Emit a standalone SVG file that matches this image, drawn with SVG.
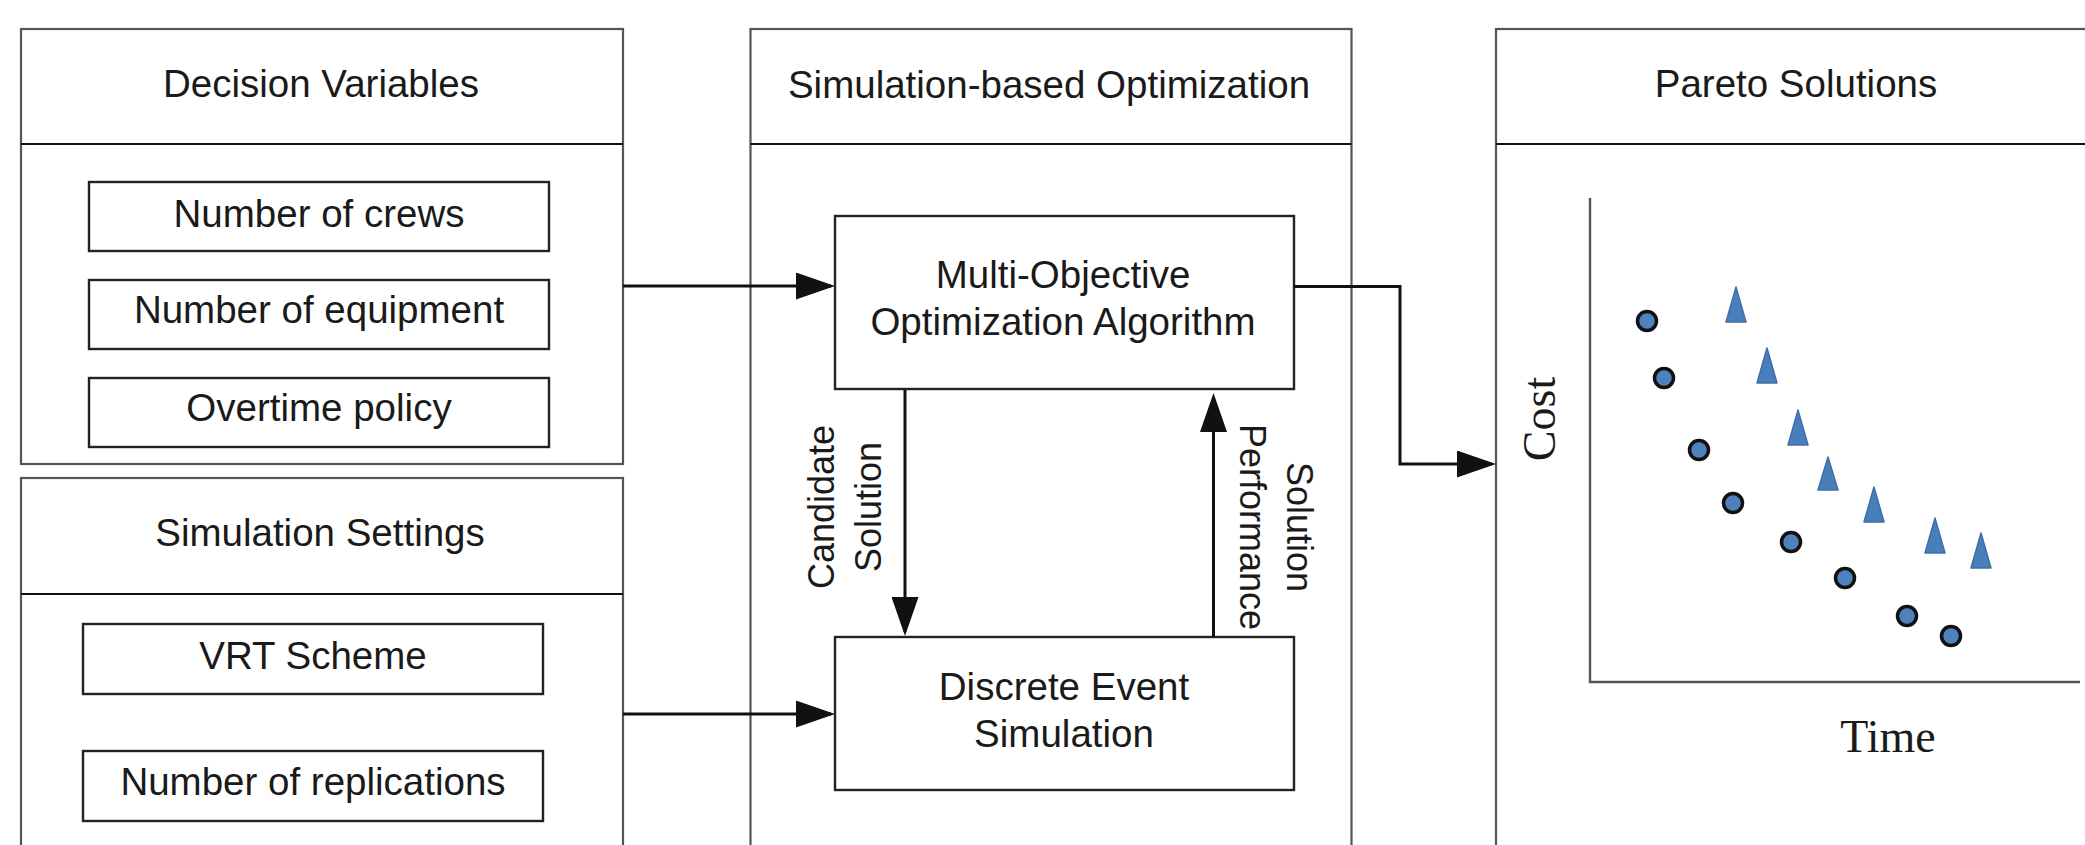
<svg xmlns="http://www.w3.org/2000/svg" width="2085" height="845" viewBox="0 0 2085 845">
  <defs>
    <style>
      .panel { fill: #ffffff; stroke: #555555; stroke-width: 2.2; }
      .divider { stroke: #111111; stroke-width: 2.2; fill: none; }
      .box { fill: #ffffff; stroke: #222222; stroke-width: 2.4; }
      .label { font-family: "Liberation Sans", Arial, sans-serif; font-size: 38.5px; fill: #1a1a1a; text-anchor: middle; }
      .side { font-family: "Liberation Sans", Arial, sans-serif; font-size: 36px; fill: #1a1a1a; text-anchor: middle; }
      .axis-label { font-family: "Liberation Serif", "Times New Roman", serif; font-size: 46px; fill: #1a1a1a; text-anchor: middle; }
      .wire { fill: none; stroke: #111111; stroke-width: 3; }
      .axis { fill: none; stroke: #555555; stroke-width: 2.4; }
      .dot { fill: #4f81bd; stroke: #111111; stroke-width: 3.5; }
      .tri { fill: #4a7ebb; stroke: #3f6fa8; stroke-width: 1.5; stroke-linejoin: round; }
    </style>
    <marker id="arrow" markerUnits="userSpaceOnUse" markerWidth="39" markerHeight="27" refX="35" refY="13.5" orient="auto">
      <path d="M0,0 L39,13.5 L0,27 Z" fill="#111111"/>
    </marker>
  </defs>

  <rect width="2085" height="845" fill="#ffffff"/>

  <!-- Decision variables panel -->
  <g id="decision-variables">
    <rect class="panel" x="21" y="29" width="602" height="435"/>
    <line class="divider" x1="21" y1="144" x2="623" y2="144"/>
    <text class="label" x="321" y="97">Decision Variables</text>
    <g id="crews">
      <rect class="box" x="89" y="182" width="460" height="69"/>
      <text class="label" x="319" y="227">Number of crews</text>
    </g>
    <g id="equipment">
      <rect class="box" x="89" y="280" width="460" height="69"/>
      <text class="label" x="319" y="323">Number of equipment</text>
    </g>
    <g id="overtime">
      <rect class="box" x="89" y="378" width="460" height="69"/>
      <text class="label" x="319" y="421">Overtime policy</text>
    </g>
  </g>

  <!-- Simulation settings panel -->
  <g id="simulation-settings">
    <rect class="panel" x="21" y="478" width="602" height="400"/>
    <line class="divider" x1="21" y1="594" x2="623" y2="594"/>
    <text class="label" x="320" y="546">Simulation Settings</text>
    <g id="vrt-scheme">
      <rect class="box" x="83" y="624" width="460" height="70"/>
      <text class="label" x="313" y="669">VRT Scheme</text>
    </g>
    <g id="replications">
      <rect class="box" x="83" y="751" width="460" height="70"/>
      <text class="label" x="313" y="795">Number of replications</text>
    </g>
  </g>

  <!-- Simulation-based optimization panel -->
  <g id="sim-opt">
    <rect class="panel" x="750.5" y="29" width="601" height="850"/>
    <line class="divider" x1="750.5" y1="144" x2="1351.5" y2="144"/>
    <text class="label" x="1049" y="98">Simulation-based Optimization</text>
  </g>

  <g id="moo-algorithm">
    <rect class="box" x="835" y="216" width="459" height="173"/>
    <text class="label" x="1063" y="288">Multi-Objective</text>
    <text class="label" x="1063" y="335">Optimization Algorithm</text>
  </g>

  <g id="des">
    <rect class="box" x="835" y="637" width="459" height="153"/>
    <text class="label" x="1064" y="700">Discrete Event</text>
    <text class="label" x="1064" y="747">Simulation</text>
  </g>

  <!-- Pareto solutions panel with scatter sketch -->
  <g id="pareto-solutions">
    <rect class="panel" x="1496" y="29" width="620" height="850"/>
    <line class="divider" x1="1496" y1="144" x2="2116" y2="144"/>
    <text class="label" x="1796" y="97">Pareto Solutions</text>
    <path class="axis" d="M1590,198 V682 H2080"/>
    <text class="axis-label" transform="translate(1555,419) rotate(-90)">Cost</text>
    <text class="axis-label" x="1888" y="752">Time</text>
    <g id="front-a">
      <circle class="dot" cx="1647" cy="321" r="9.5"/>
      <circle class="dot" cx="1664" cy="378" r="9.5"/>
      <circle class="dot" cx="1699" cy="450" r="9.5"/>
      <circle class="dot" cx="1733" cy="503" r="9.5"/>
      <circle class="dot" cx="1791" cy="542" r="9.5"/>
      <circle class="dot" cx="1845" cy="578" r="9.5"/>
      <circle class="dot" cx="1907" cy="616" r="9.5"/>
      <circle class="dot" cx="1951" cy="636" r="9.5"/>
    </g>
    <g id="front-b">
      <path class="tri" d="M1736,287 L1746,322 L1726,322 Z"/>
      <path class="tri" d="M1767,348 L1777,383 L1757,383 Z"/>
      <path class="tri" d="M1798,410 L1808,445 L1788,445 Z"/>
      <path class="tri" d="M1828,457 L1838,490 L1818,490 Z"/>
      <path class="tri" d="M1874,487 L1884,522 L1864,522 Z"/>
      <path class="tri" d="M1935,518 L1945,553 L1925,553 Z"/>
      <path class="tri" d="M1981,533 L1991,568 L1971,568 Z"/>
    </g>
  </g>

  <!-- Connectors -->
  <g id="connectors">
    <path class="wire" d="M623,286 H831" marker-end="url(#arrow)"/>
    <path class="wire" d="M623,714 H831" marker-end="url(#arrow)"/>
    <path class="wire" d="M1294,286.5 H1400 V464 H1492" marker-end="url(#arrow)"/>
    <path class="wire" d="M905,390 V632" marker-end="url(#arrow)"/>
    <path class="wire" d="M1213.5,637 V397" marker-end="url(#arrow)"/>
    <text class="side" transform="translate(834,507) rotate(-90)">Candidate</text>
    <text class="side" transform="translate(881,507) rotate(-90)">Solution</text>
    <text class="side" transform="translate(1287,527) rotate(90)">Solution</text>
    <text class="side" transform="translate(1240,527) rotate(90)">Performance</text>
  </g>
</svg>
